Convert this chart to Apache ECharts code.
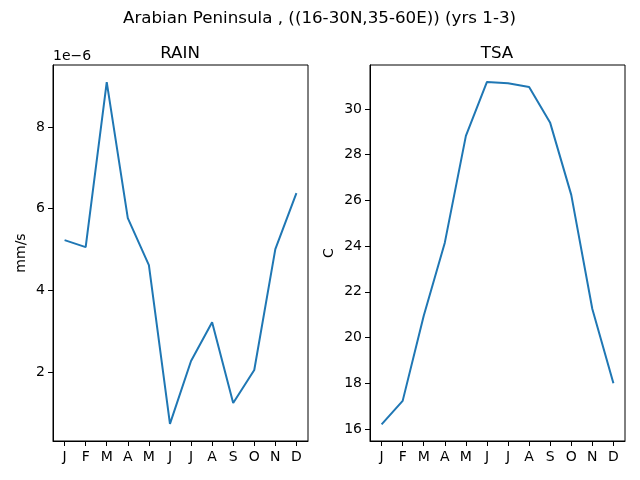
<!DOCTYPE html>
<html>
<head>
<meta charset="utf-8">
<script src="https://cdn.jsdelivr.net/npm/echarts@6/dist/echarts.min.js"></script>
<style>html,body{margin:0;padding:0;background:#fff;}#c{width:640px;height:480px;}</style>
</head>
<body>
<div id="c"></div>
<script>
const months = ['J','F','M','A','M','J','J','A','S','O','N','D'];
const rain = [5.23e-6, 5.06e-6, 9.10e-6, 5.77e-6, 4.62e-6, 0.73e-6, 2.27e-6, 3.22e-6, 1.24e-6, 2.05e-6, 5.01e-6, 6.38e-6];
const tsa = [16.2, 17.23, 20.95, 24.15, 28.82, 31.18, 31.12, 30.96, 29.39, 26.24, 21.25, 18.0];
const rainTicks = [2e-6, 4e-6, 6e-6, 8e-6];
const tsaTicks = [16, 18, 20, 22, 24, 26, 28, 30];
const monthIdx = months.map((m, i) => i);

const font = 'DejaVu Sans';
const chart = echarts.init(document.getElementById('c'), null, {renderer: 'canvas'});

function xAxis(gi) {
  return {
    type: 'value', gridIndex: gi, min: -0.55, max: 11.55,
    axisLine: {show: true, onZero: false, lineStyle: {color: '#000', width: 1}},
    axisTick: {show: true, customValues: monthIdx, length: 5, inside: false, lineStyle: {color: '#000'}},
    axisLabel: {customValues: monthIdx, formatter: v => months[Math.round(v)], color: '#000', fontFamily: font, fontSize: 14, margin: 9},
    splitLine: {show: false}
  };
}
function yAxis(gi, min, max, ticks, fmt, name, gap) {
  return {
    type: 'value', gridIndex: gi, min: min, max: max,
    name: name, nameLocation: 'middle', nameRotate: 90, nameGap: gap,
    nameTextStyle: {color: '#000', fontFamily: font, fontSize: 14},
    axisLine: {show: true, onZero: false, lineStyle: {color: '#000', width: 1}},
    axisTick: {show: true, customValues: ticks, length: 5, lineStyle: {color: '#000'}},
    axisLabel: {customValues: ticks, formatter: fmt, color: '#000', fontFamily: font, fontSize: 14, margin: 8},
    splitLine: {show: false}
  };
}

chart.setOption({
  animation: false,
  backgroundColor: '#fff',
  title: [
    {text: 'Arabian Peninsula , ((16-30N,35-60E)) (yrs 1-3)', left: 314.5, top: 5, textAlign: 'center',
     textStyle: {fontFamily: font, fontSize: 16.7, fontWeight: 'normal', color: '#000'}},
    {text: 'RAIN', left: 175, top: 40, textAlign: 'center',
     textStyle: {fontFamily: font, fontSize: 16.7, fontWeight: 'normal', color: '#000'}},
    {text: 'TSA', left: 492, top: 40, textAlign: 'center',
     textStyle: {fontFamily: font, fontSize: 16.7, fontWeight: 'normal', color: '#000'}}
  ],
  graphic: [
    {type: 'text', left: 53, top: 49, style: {text: '1e\u22126', font: '14px "DejaVu Sans"', fill: '#000'}}
  ],
  grid: [
    {left: 53, top: 65, width: 255, height: 376, show: true, borderColor: '#000', borderWidth: 1, backgroundColor: 'transparent'},
    {left: 370, top: 65, width: 255, height: 376, show: true, borderColor: '#000', borderWidth: 1, backgroundColor: 'transparent'}
  ],
  xAxis: [xAxis(0), xAxis(1)],
  yAxis: [
    yAxis(0, 0.31e-6, 9.52e-6, rainTicks, v => String(Math.round(v / 1e-6)), 'mm/s', 25),
    yAxis(1, 15.475, 31.92, tsaTicks, v => String(Math.round(v)), 'C', 34)
  ],
  series: [
    {type: 'line', xAxisIndex: 0, yAxisIndex: 0, data: rain.map((v, i) => [i, v]), showSymbol: false,
     lineStyle: {color: '#1f77b4', width: 2}, itemStyle: {color: '#1f77b4'}},
    {type: 'line', xAxisIndex: 1, yAxisIndex: 1, data: tsa.map((v, i) => [i, v]), showSymbol: false,
     lineStyle: {color: '#1f77b4', width: 2}, itemStyle: {color: '#1f77b4'}}
  ]
});
</script>
</body>
</html>
